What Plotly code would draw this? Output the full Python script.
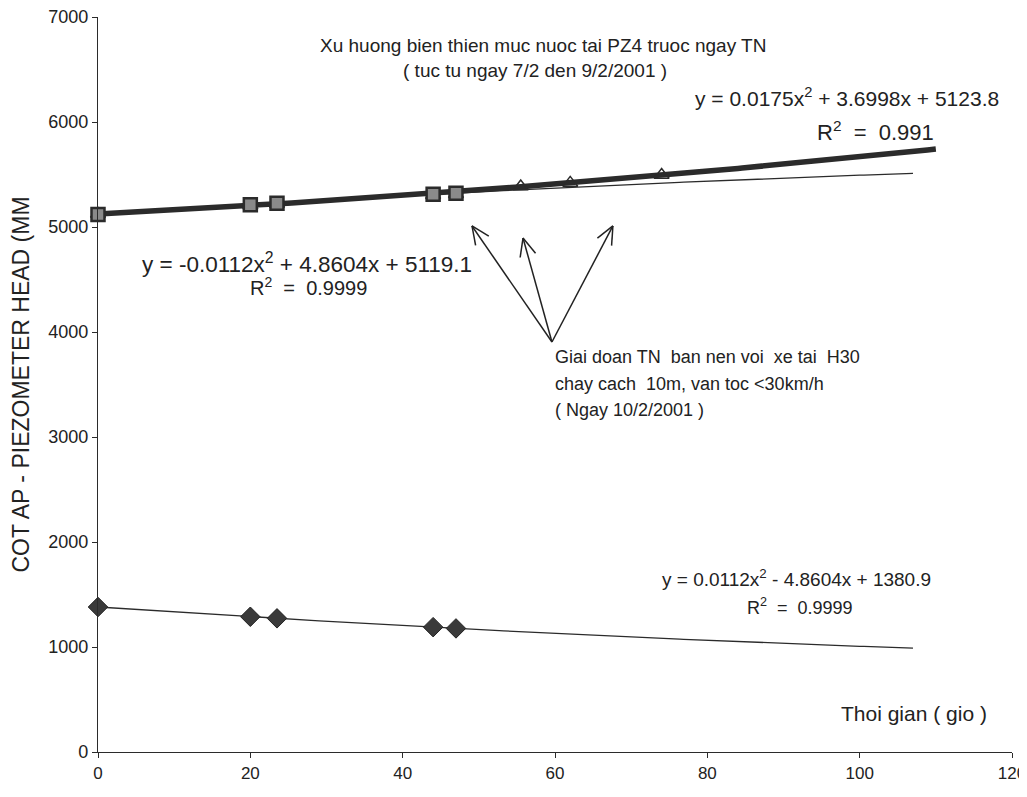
import numpy as np
import plotly.graph_objects as go

# ---- data ----
x_before = [0, 20, 23.5, 44, 47]
y_before = [5119, 5211, 5227, 5311, 5322]          # squares (before test)
x_all = [0, 20, 23.5, 44, 47, 55.5, 62, 74]
y_all = [5124, 5205, 5220, 5302, 5313, 5385, 5420, 5495]   # triangles (incl. test)
x_low = [0, 20, 23.5, 44, 47]
y_low = [1381, 1288, 1273, 1189, 1177]              # diamonds

coef_all = [0.0175, 3.6998, 5123.8]
coef_before = [-0.0112, 4.8604, 5119.1]
coef_low = [0.0112, -4.8604, 1380.9]
x_end_all = 110
x_end_before = 107
x_end_low = 107

dark = "#2b2b2b"
fnt = "Liberation Sans, Arial, sans-serif"
S = "&nbsp;"

# layout geometry (page body adds an 8px offset)
W, H = 1019, 789
ML, MR, MT, MB = 90, 15, 9, 45
XR = [0, 120]
YR = [0, 7000]
kx = (W - ML - MR) / (XR[1] - XR[0])   # px per x unit
ky = (H - MT - MB) / (YR[1] - YR[0])   # px per y unit

fig = go.Figure()

def trend(coef, xend, width):
    xs = np.linspace(0, xend, 200)
    ys = np.polyval(coef, xs)
    return go.Scatter(x=xs, y=ys, mode="lines", line=dict(color=dark, width=width),
                      hoverinfo="skip", showlegend=False)

fig.add_trace(trend(coef_before, x_end_before, 1.3))
fig.add_trace(trend(coef_low, x_end_low, 1.3))
fig.add_trace(trend(coef_all, x_end_all, 5.5))

fig.add_trace(go.Scatter(x=x_all, y=y_all, mode="markers", showlegend=False, cliponaxis=False,
                         marker=dict(symbol="triangle-up-open", size=13,
                                     color=dark, line=dict(width=1.5, color=dark))))
fig.add_trace(go.Scatter(x=x_before, y=y_before, mode="markers", showlegend=False, cliponaxis=False,
                         marker=dict(symbol="square", size=13, color="#8a8a8a",
                                     line=dict(width=2.5, color=dark))))
fig.add_trace(go.Scatter(x=x_low, y=y_low, mode="markers", showlegend=False, cliponaxis=False,
                         marker=dict(symbol="diamond", size=15, color="#3a3a3a",
                                     line=dict(width=1, color="#222222"))))

ann = []
def txt(x, y, t, size, xanchor="center", align="center"):
    ann.append(dict(x=x, y=y, xref="x", yref="y", text=t, showarrow=False,
                    xanchor=xanchor, yanchor="middle", align=align,
                    font=dict(family=fnt, size=size, color="#222222")))

txt(58.4, 6733, "Xu huong bien thien muc nuoc tai PZ4 truoc ngay TN", 19)
txt(57.4, 6495, "( tuc tu ngay 7/2 den 9/2/2001 )", 19)
txt(118.6, 6238, f"y{S}={S}0.0175x<sup>2</sup>{S}+{S}3.6998x{S}+{S}5123.8", 21, xanchor="right")
txt(110.0, 5914, f"R<sup>2</sup>{S}{S}={S}{S}0.991", 22, xanchor="right")
txt(5.5, 4660, f"y{S}={S}-0.0112x<sup>2</sup>{S}+{S}4.8604x{S}+{S}5119.1", 22.5, xanchor="left")
txt(19.7, 4430, f"R<sup>2</sup>{S}{S}={S}{S}0.9999", 20, xanchor="left")
txt(73.8, 1657, f"y{S}={S}0.0112x<sup>2</sup>{S}-{S}4.8604x{S}+{S}1380.9", 19, xanchor="left")
txt(84.9, 1390, f"R<sup>2</sup>{S}{S}={S}{S}0.9999", 18, xanchor="left")
for yy, line in [(3765, "Giai doan TN  ban nen voi  xe tai  H30"),
                 (3508, "chay cach  10m, van toc <30km/h"),
                 (3260, "( Ngay 10/2/2001 )")]:
    txt(59.7, yy, line.replace("  ", S + S), 18, xanchor="left", align="left")
txt(107.1, 371, "Thoi gian ( gio )", 21)

# arrows with open V heads
tail = (59.6, 3905)
heads = [(49.1, 5010), (55.8, 4895), (67.6, 5010)]
shapes = []
def seg(x0, y0, x1, y1):
    shapes.append(dict(type="line", xref="x", yref="y", x0=x0, y0=y0, x1=x1, y1=y1,
                       line=dict(color="#222222", width=1.5)))
for hx, hy in heads:
    seg(tail[0], tail[1], hx, hy)
    dxp = (hx - tail[0]) * kx
    dyp = -(hy - tail[1]) * ky
    n = np.hypot(dxp, dyp)
    ux, uy = dxp / n, dyp / n
    L, Wd = 18, 8
    for sgn in (1, -1):
        wx = -L * ux + sgn * Wd * (-uy)
        wy = -L * uy + sgn * Wd * ux
        seg(hx, hy, hx + wx / kx, hy - wy / ky)

fig.update_layout(
    width=W, height=H,
    margin=dict(l=ML, r=MR, t=MT, b=MB),
    paper_bgcolor="white", plot_bgcolor="white",
    annotations=ann, shapes=shapes,
    xaxis=dict(range=XR, tickvals=[0, 20, 40, 60, 80, 100, 120], automargin=False,
               showgrid=False, zeroline=False, showline=True, linecolor=dark,
               linewidth=1.3, ticks="outside", ticklen=5, tickcolor=dark,
               ticklabeloverflow="allow",
               tickfont=dict(family=fnt, size=17, color="#222222")),
    yaxis=dict(range=YR, tickvals=[0, 1000, 2000, 3000, 4000, 5000, 6000, 7000], automargin=False,
               showgrid=False, zeroline=False, showline=True, linecolor=dark,
               linewidth=1.3, ticks="outside", ticklen=5, tickcolor=dark,
               ticksuffix="\u00a0", ticklabeloverflow="allow",
               tickfont=dict(family=fnt, size=18, color="#222222"),
               title=dict(text="COT AP - PIEZOMETER HEAD (MM", standoff=12,
                          font=dict(family=fnt, size=23, color="#222222"))),
)

fig.write_html("out.html")
